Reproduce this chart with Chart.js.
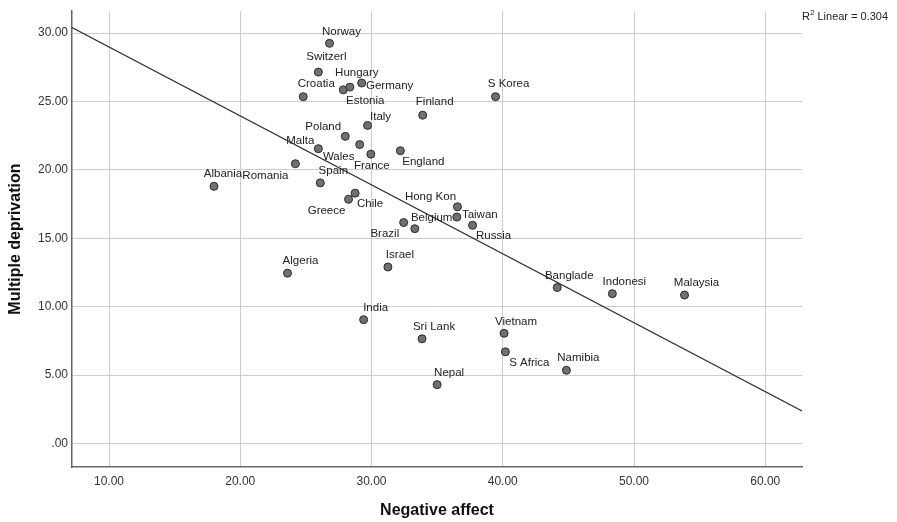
<!DOCTYPE html>
<html>
<head>
<meta charset="utf-8">
<script src="https://cdn.jsdelivr.net/npm/chart.js@4/dist/chart.umd.min.js"></script>
<style>
  body { margin: 0; background: #fff; }
  #wrap { width: 897px; height: 522px; position: relative; }
</style>
</head>
<body>
<div id="wrap"><canvas id="scatterChart"></canvas></div>
<script>
// values
var countries = ["Norway", "Switzerl", "Croatia", "Estonia", "Hungary", "Germany", "S Korea", "Finland",
  "Italy", "Poland", "Malta", "Wales", "France", "England", "Albania", "Romania", "Spain", "Greece",
  "Chile", "Hong Kon", "Taiwan", "Belgium", "Brazil", "Russia", "Algeria", "Israel", "India",
  "Sri Lank", "Nepal", "Vietnam", "S Africa", "Namibia", "Banglade", "Indonesi", "Malaysia"];
var negAffect = [26.8, 25.95, 24.8, 27.85, 28.35, 29.25, 39.45, 33.9,
  29.7, 28.0, 25.95, 29.1, 29.95, 32.2, 18.0, 24.2, 26.1, 28.25,
  28.75, 36.55, 36.5, 32.45, 33.3, 37.7, 23.6, 31.25, 29.4,
  33.85, 35.0, 40.1, 40.2, 44.85, 44.15, 48.35, 53.85];
var deprivation = [29.25, 27.15, 25.35, 25.85, 26.05, 26.35, 25.35, 24.0,
  23.25, 22.45, 21.55, 21.85, 21.15, 21.4, 18.8, 20.45, 19.05, 17.85,
  18.3, 17.3, 16.55, 16.15, 15.7, 15.95, 12.45, 12.9, 9.05,
  7.65, 4.3, 8.05, 6.7, 5.35, 11.4, 10.95, 10.85];

// fit line as printed by the source (R2 Linear = 0.304)
var fitIntercept = 34.03;
var fitSlope = -0.504;
var rSquared = "0.304";

var xTicks = [10, 20, 30, 40, 50, 60];
var yTicks = [0, 5, 10, 15, 20, 25, 30];
var xRange = [7.18, 62.8];
var yRange = [-1.72, 31.6];

// where each name sits relative to its dot (px)
var labelOffsets = [[12,-12],[8,-15],[13,-13],[22,11],[7,-14],[28,3],[13,-13],[12,-13],
  [13,-9],[-22,-10],[-18,-8],[-21,12],[1,12],[23,11],[9,-12],[-30,12],[13,-12],[-22,12],
  [15,11],[-27,-10],[23,-2],[28,-5],[-30,5],[21,11],[13,-12],[12,-12],[12,-12],
  [12,-12],[12,-12],[12,-12],[24,11],[12,-12],[12,-12],[12,-12],[12,-12]];

var points = negAffect.map(function (v, i) { return { x: v, y: deprivation[i] }; });
var fitLine = xRange.map(function (v) { return { x: v, y: fitIntercept + fitSlope * v }; });

function fmt(v) {
  var s = Number(v).toFixed(2);
  return s.indexOf("0.") === 0 ? s.slice(1) : s;
}

var pointLabels = {
  id: 'pointLabels',
  afterDatasetsDraw: function (chart) {
    var ctx = chart.ctx, xs = chart.scales.x, ys = chart.scales.y;
    ctx.save();
    ctx.font = '11.5px "Liberation Sans", Arial, sans-serif';
    ctx.fillStyle = '#222';
    ctx.textAlign = 'center';
    ctx.textBaseline = 'middle';
    countries.forEach(function (name, i) {
      var px = xs.getPixelForValue(negAffect[i]) + labelOffsets[i][0];
      var py = ys.getPixelForValue(deprivation[i]) + labelOffsets[i][1];
      ctx.fillText(name, px, py);
    });
    // R2 note, top right outside the plot
    var x0 = chart.chartArea.right, y0 = 17;
    ctx.textAlign = 'left';
    ctx.font = '11px "Liberation Sans", Arial, sans-serif';
    ctx.fillText('R', x0, y0);
    var w = ctx.measureText('R').width;
    ctx.font = '8px "Liberation Sans", Arial, sans-serif';
    ctx.fillText('2', x0 + w, y0 - 4);
    var w2 = ctx.measureText('2').width;
    ctx.font = '11px "Liberation Sans", Arial, sans-serif';
    ctx.fillText(' Linear = ' + rSquared, x0 + w + w2, y0);
    ctx.restore();
  }
};

var ctx = document.getElementById('scatterChart').getContext('2d');
var chart = new Chart(ctx, {
  type: 'scatter',
  data: {
    datasets: [{
      label: 'Countries',
      data: points,
      pointRadius: 4,
      pointBorderWidth: 1,
      backgroundColor: '#707070',
      borderColor: '#2b2b2b',
      order: 1
    }, {
      type: 'line',
      label: 'Fit',
      data: fitLine,
      borderColor: '#333',
      borderWidth: 1.2,
      pointRadius: 0,
      fill: false,
      order: 2
    }]
  },
  options: {
    responsive: true,
    maintainAspectRatio: false,
    animation: false,
    layout: { padding: { top: 7, right: 95, left: 0, bottom: 0 } },
    plugins: { legend: { display: false }, tooltip: { enabled: false } },
    scales: {
      x: {
        type: 'linear',
        min: xRange[0],
        max: xRange[1],
        afterBuildTicks: function (s) { s.ticks = xTicks.map(function (v) { return { value: v }; }); },
        afterFit: function (s) { s.height = 55; },
        grid: { color: '#cccccc', lineWidth: 1, drawTicks: false },
        border: { color: '#666', width: 1.5 },
        ticks: {
          padding: 7,
          color: '#333',
          font: { family: '"Liberation Sans", Arial, sans-serif', size: 12 },
          callback: fmt
        },
        title: {
          display: true,
          text: 'Negative affect',
          color: '#111',
          font: { family: '"Liberation Sans", Arial, sans-serif', size: 16, weight: 'bold' },
          padding: { top: 0, bottom: 2 }
        }
      },
      y: {
        type: 'linear',
        min: yRange[0],
        max: yRange[1],
        afterBuildTicks: function (s) { s.ticks = yTicks.map(function (v) { return { value: v }; }); },
        afterFit: function (s) { s.width = 72; },
        grid: { color: '#cccccc', lineWidth: 1, drawTicks: false },
        border: { color: '#666', width: 1.5 },
        ticks: {
          padding: 4,
          color: '#333',
          font: { family: '"Liberation Sans", Arial, sans-serif', size: 12 },
          callback: fmt
        },
        title: {
          display: true,
          text: 'Multiple deprivation',
          color: '#111',
          font: { family: '"Liberation Sans", Arial, sans-serif', size: 16, weight: 'bold' },
          padding: { top: 6, bottom: 0 }
        }
      }
    }
  },
  plugins: [pointLabels]
});
</script>
</body>
</html>
